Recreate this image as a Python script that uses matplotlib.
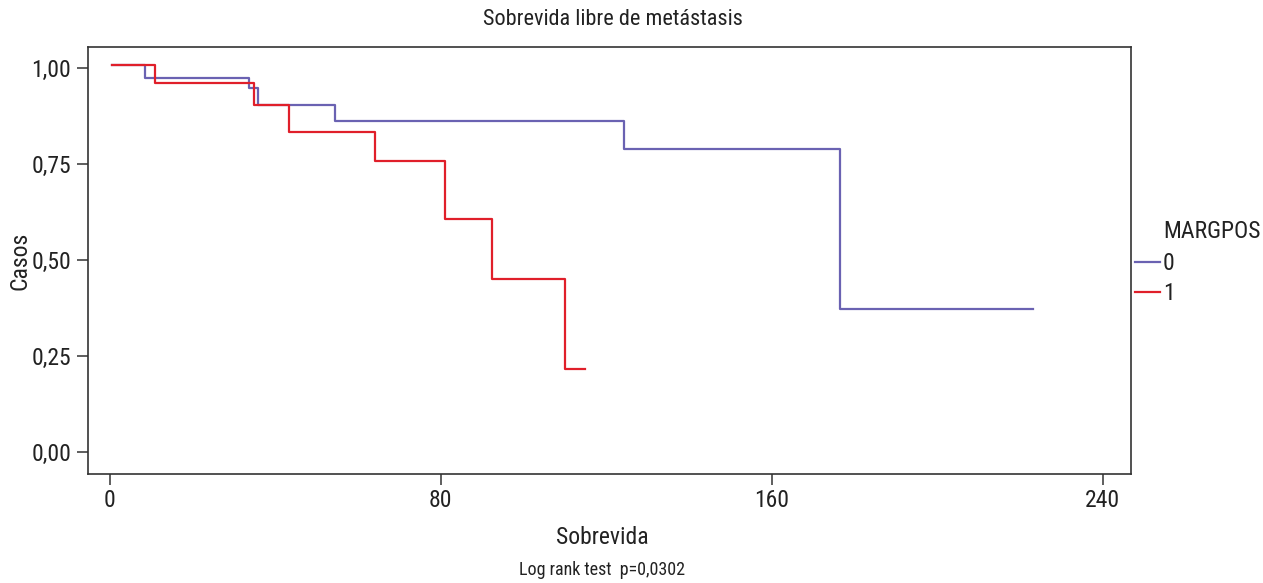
import matplotlib
matplotlib.use("Agg")
import matplotlib.pyplot as plt
from matplotlib import font_manager

# condensed face if there is one
installed = {f.name for f in font_manager.fontManager.ttflist}
narrow = [n for n in ["Liberation Sans Narrow", "Roboto Condensed", "Open Sans Condensed",
                      "DejaVu Sans Condensed", "Noto Sans Condensed"] if n in installed]
plt.rcParams['font.family'] = narrow[:1] + ['DejaVu Sans']
if narrow and narrow[0] in ("DejaVu Sans Condensed",):
    plt.rcParams['font.stretch'] = 'condensed'

# Kaplan-Meier curves (time, survival), step 'post'
t_0 = [0.6, 8.5, 33.7, 35.9, 54.5, 124.4, 176.4, 223.0]
s_0 = [1.008, 0.975, 0.947, 0.904, 0.862, 0.788, 0.373, 0.373]

t_1 = [0.65, 11.0, 34.9, 43.4, 64.1, 81.0, 92.5, 110.1, 114.9]
s_1 = [1.008, 0.960, 0.904, 0.833, 0.757, 0.607, 0.450, 0.215, 0.215]

x_ticks = [0, 80, 160, 240]
y_ticks = [0.0, 0.25, 0.5, 0.75, 1.0]
y_labels = ["0,00", "0,25", "0,50", "0,75", "1,00"]

col_0 = "#6a62b2"
col_1 = "#e01f2a"
frame_col = "#333333"
txt_col = "#222222"

fig = plt.figure(figsize=(12.63, 5.83), dpi=100)
ax = fig.add_axes([0.0697, 0.187, 0.8258, 0.7324])

ax.step(t_0, s_0, where="post", color=col_0, lw=1.6, label="0")
ax.step(t_1, s_1, where="post", color=col_1, lw=1.6, label="1")

ax.set_xlim(-5.2, 246.8)
ax.set_ylim(-0.0573, 1.0547)
ax.set_xticks(x_ticks)
ax.set_xticklabels([str(v) for v in x_ticks])
ax.set_yticks(y_ticks)
ax.set_yticklabels(y_labels)

for sp in ax.spines.values():
    sp.set_color(frame_col)
    sp.set_linewidth(1.2)
ax.tick_params(axis="both", direction="out", length=8, width=1.1,
               color=frame_col, labelsize=17, labelcolor=txt_col, pad=4)
ax.tick_params(axis="x", pad=3)

fig.text(0.4853, 0.9657, "Sobrevida libre de metástasis", ha="center", va="center",
         fontsize=16, color=txt_col)
ax.set_xlabel("Sobrevida", fontsize=17, color=txt_col, va="center")
ax.xaxis.set_label_coords(0.493, -0.148)
ax.set_ylabel("Casos", fontsize=17, color=txt_col, va="center")
ax.yaxis.set_label_coords(-0.0652, 0.5)

fig.text(0.4766, 0.0223, "Log rank test  p=0,0302", ha="center", va="center",
         fontsize=13, color=txt_col)

leg = ax.legend(loc="center left", bbox_to_anchor=(1.0038, 0.4578), frameon=False,
                fontsize=17, handlelength=1.06, handletextpad=0.12,
                labelspacing=0.3, borderpad=0, borderaxespad=0)
for txt in leg.get_texts():
    txt.set_color(txt_col)
fig.text(1163 / 1263, 1 - 231 / 583, "MARGPOS", ha="left", va="center",
         fontsize=17, color=txt_col)

fig.savefig("out.png", dpi=100)
